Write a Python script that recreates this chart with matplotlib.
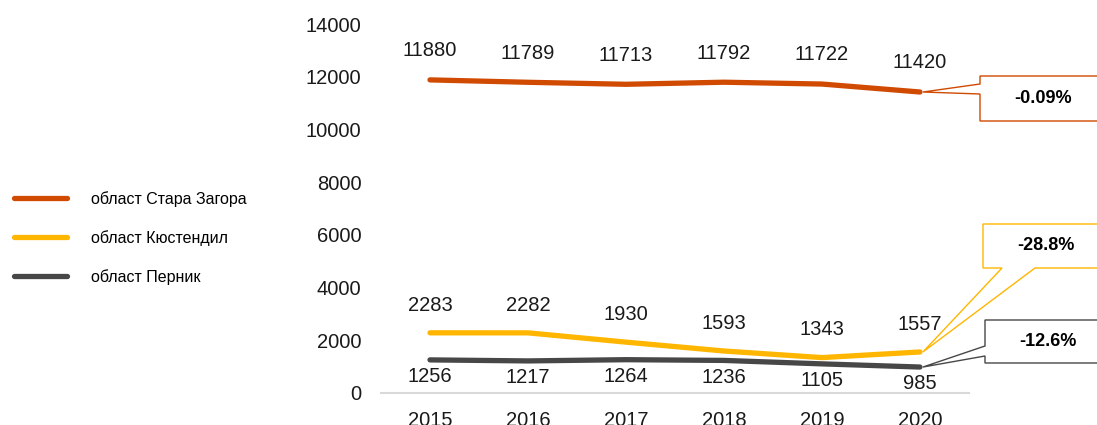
import numpy as np
import matplotlib.pyplot as plt
from matplotlib.patches import Polygon

years = ['2015', '2016', '2017', '2018', '2019', '2020']
stara_zagora = [11880, 11789, 11713, 11792, 11722, 11420]
kyustendil = [2283, 2282, 1930, 1593, 1343, 1557]
pernik = [1256, 1217, 1264, 1236, 1105, 985]
names = ['област Стара Загора', 'област Кюстендил', 'област Перник']
changes = ['-0.09%', '-28.8%', '-12.6%']

c_orange = '#D04A02'
c_yellow = '#FFB600'
c_gray = '#474747'

plt.rcParams['font.family'] = ['Liberation Sans', 'DejaVu Sans']

fig = plt.figure(figsize=(10.97, 4.25), dpi=100)
ax = fig.add_axes([0.3473, 0.0753, 0.5360, 0.8682])
x = np.arange(len(years))

series = [(stara_zagora, c_orange, 21), (kyustendil, c_yellow, 20), (pernik, c_gray, -12)]
lines = []
for (vals, col, off), nm in zip(series, names):
    ln, = ax.plot(x, vals, color=col, lw=3.8, solid_capstyle='round', label=nm)
    lines.append(ln)
    for xi, v in zip(x, vals):
        ax.annotate(str(v), (xi, v), xytext=(0, off), textcoords='offset points',
                    ha='center', va='center', fontsize=14.5, color='#1a1a1a')

ax.set_xlim(-0.5, len(years) - 0.5)
ax.set_ylim(0, 14000)
ax.set_yticks(range(0, 14001, 2000))
ax.set_xticks(x)
ax.set_xticklabels(years)
ax.tick_params(axis='both', length=0, labelsize=14.5, colors='#1a1a1a')
ax.tick_params(axis='y', pad=14)
ax.tick_params(axis='x', pad=13)
for s in ['top', 'right', 'left']:
    ax.spines[s].set_visible(False)
ax.spines['bottom'].set_color('#D9D9D9')
ax.spines['bottom'].set_linewidth(1.5)

fig.legend(handles=lines, loc='upper left', bbox_to_anchor=(0.0, 0.585), frameon=False,
           fontsize=11.5, handlelength=3.3, handletextpad=1.5, labelspacing=1.45)

# callout boxes (pixel coordinates, origin bottom-left)
H = 425
fig.canvas.draw()
boxes = [
    # x0, x1, y_top, y_bottom (from image top), wedge side, wedge attach
    (980, 1100, 76, 121, 'left', (84, 94)),
    (983, 1100, 224, 268, 'bottom', (1002, 1035)),
    (985, 1100, 320, 363, 'left', (346, 356)),
]
series_vals = [stara_zagora, kyustendil, pernik]
cols = [c_orange, c_yellow, c_gray]
for (x0, x1, yt, yb, side, att), vals, col, txt in zip(boxes, series_vals, cols, changes):
    tip = ax.transData.transform((x[-1] + 0.03, vals[-1]))
    tx, ty = tip
    top, bot = H - yt, H - yb
    if side == 'left':
        a1, a2 = H - att[0], H - att[1]
        verts = [(x0, top), (x1, top), (x1, bot), (x0, bot), (x0, a2), (tx, ty), (x0, a1)]
    else:
        verts = [(x0, top), (x1, top), (x1, bot), (att[1], bot), (tx, ty), (att[0], bot), (x0, bot)]
    poly = Polygon(verts, closed=True, facecolor='white', edgecolor=col, lw=1.0,
                   transform=None, zorder=5)
    fig.patches.append(poly)
    fig.text((x0 + 1043 - 980) / 1097, (top + bot) / 2 / H, txt, ha='center', va='center',
             fontsize=13, fontweight='bold', color='black', zorder=6)

fig.savefig('out.png', dpi=100)
